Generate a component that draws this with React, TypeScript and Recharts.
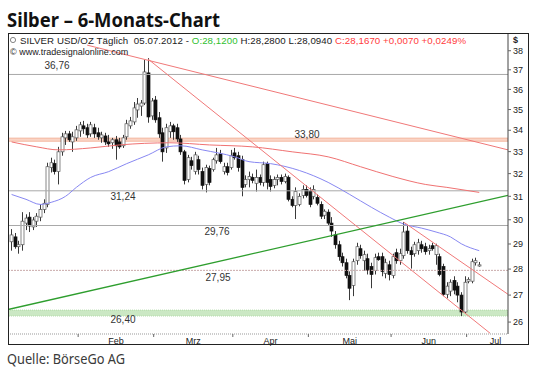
import React from 'react';
import { ComposedChart, Bar, Line, XAxis, YAxis, ReferenceLine, ReferenceArea } from 'recharts';

// Silber, tägliche Kerzen 05.01.2012 - 05.07.2012
const OPEN = [
  29.09, 29.29, 28.89, 28.97, 29.86, 30.11, 29.70, 29.94, 30.11, 30.44,
  30.65, 32.27, 32.45, 32.09, 32.99, 33.64, 33.83, 33.45, 33.64, 33.97,
  34.21, 34.12, 33.83, 34.12, 33.88, 33.64, 33.73, 33.45, 33.41, 33.55,
  33.45, 33.27, 33.69, 34.21, 34.40, 34.98, 35.17, 35.32, 36.84, 34.69,
  35.47, 34.60, 33.88, 33.17, 33.93, 34.21, 34.12, 33.59, 32.99, 31.74,
  32.58, 32.09, 32.63, 32.09, 31.52, 32.23, 32.18, 32.58, 32.90, 32.09,
  32.31, 32.27, 32.94, 32.81, 32.63, 31.52, 31.74, 31.83, 31.57, 31.83,
  31.61, 32.45, 31.74, 31.48, 31.74, 31.83, 31.65, 31.83, 30.87, 30.61,
  30.65, 31.04, 31.30, 31.21, 31.00, 30.95, 30.65, 30.19, 30.32, 29.86,
  29.37, 28.97, 28.49, 28.25, 27.75, 27.37, 28.33, 28.81, 28.33, 28.41,
  28.10, 27.94, 28.49, 28.49, 27.83, 28.17, 27.75, 28.65, 28.33, 28.53,
  29.53, 28.73, 28.61, 28.73, 28.97, 28.89, 28.73, 28.93, 28.57, 28.49,
  28.10, 27.03, 27.15, 27.56, 27.34, 27.00, 26.37, 27.53, 27.53, 28.25,
  28.12,
];
const HIGH = [
  29.61, 29.45, 29.13, 30.32, 30.23, 30.32, 30.11, 30.28, 30.65, 30.87,
  32.49, 32.72, 32.63, 33.22, 33.88, 33.97, 33.97, 33.93, 34.21, 34.40,
  34.45, 34.31, 34.40, 34.31, 34.12, 33.93, 33.88, 33.78, 33.64, 33.73,
  33.64, 33.78, 34.50, 34.64, 35.37, 35.57, 35.47, 37.51, 37.61, 35.57,
  35.67, 34.88, 34.12, 34.31, 34.40, 34.31, 34.31, 33.78, 33.08, 32.85,
  32.76, 32.99, 32.81, 32.27, 32.40, 32.36, 32.72, 33.17, 33.08, 32.49,
  32.49, 33.08, 33.17, 32.99, 32.81, 31.92, 32.09, 32.00, 32.18, 31.96,
  32.54, 32.54, 31.92, 31.87, 31.96, 31.96, 32.00, 31.92, 31.00, 31.39,
  31.13, 31.48, 31.48, 31.39, 31.48, 31.08, 30.78, 30.44, 30.44, 30.11,
  29.53, 29.13, 28.65, 28.41, 27.91, 28.41, 29.05, 28.97, 28.73, 28.61,
  28.25, 28.61, 28.65, 28.65, 28.41, 28.33, 28.61, 28.81, 28.81, 29.90,
  29.78, 28.89, 29.09, 29.21, 29.13, 29.05, 28.97, 29.05, 29.01, 28.61,
  28.21, 27.49, 27.60, 27.72, 27.49, 27.11, 27.72, 27.68, 28.41, 28.45,
  28.28,
];
const LOW = [
  28.73, 28.81, 28.61, 28.73, 29.57, 29.49, 29.57, 29.70, 29.94, 30.28,
  30.53, 32.05, 31.96, 31.52, 32.81, 33.31, 33.45, 32.99, 33.50, 33.69,
  33.83, 33.64, 33.69, 33.64, 33.55, 33.41, 33.31, 33.22, 33.13, 32.63,
  33.13, 33.17, 33.55, 34.07, 34.26, 34.60, 34.69, 35.22, 34.36, 34.50,
  34.36, 33.64, 32.54, 32.94, 33.64, 33.55, 33.45, 32.85, 31.52, 31.61,
  32.18, 31.96, 31.96, 31.30, 31.17, 31.48, 32.09, 32.45, 32.45, 31.96,
  31.92, 32.18, 32.63, 32.09, 31.00, 31.39, 31.39, 31.57, 31.21, 31.48,
  31.43, 31.30, 31.21, 31.35, 31.48, 31.52, 31.57, 30.78, 30.53, 30.03,
  30.57, 30.91, 30.95, 30.53, 30.87, 30.61, 30.03, 30.03, 29.78, 29.29,
  28.81, 28.33, 28.10, 27.64, 26.81, 26.96, 28.17, 28.41, 27.94, 27.79,
  27.26, 27.79, 28.33, 27.72, 27.64, 27.56, 27.64, 28.21, 28.17, 28.41,
  28.61, 28.02, 28.49, 28.57, 28.65, 28.57, 28.57, 28.73, 28.17, 27.72,
  26.96, 26.88, 26.96, 27.03, 26.73, 26.22, 26.30, 27.45, 27.45, 28.14,
  28.094,
];
const CLOSE = [
  29.37, 28.89, 28.97, 29.94, 30.07, 29.74, 29.99, 30.15, 30.44, 30.70,
  32.31, 32.49, 32.09, 32.99, 33.69, 33.83, 33.55, 33.69, 34.02, 34.26,
  34.07, 33.78, 34.26, 33.83, 33.69, 33.78, 33.45, 33.36, 33.55, 33.27,
  33.22, 33.64, 34.31, 34.45, 35.08, 35.27, 35.32, 36.89, 34.64, 35.42,
  34.50, 33.83, 32.99, 34.12, 34.21, 33.93, 33.59, 32.99, 31.70, 32.72,
  32.36, 32.85, 32.18, 31.48, 32.27, 31.61, 32.63, 32.85, 32.54, 32.31,
  32.05, 32.81, 32.72, 32.27, 31.39, 31.74, 31.87, 31.70, 31.83, 31.61,
  32.40, 31.61, 31.43, 31.74, 31.83, 31.65, 31.87, 30.87, 30.61, 31.21,
  31.00, 31.30, 31.04, 30.65, 31.30, 30.70, 30.15, 30.36, 29.86, 29.53,
  28.97, 28.49, 28.25, 27.75, 27.26, 28.29, 28.89, 28.53, 28.57, 27.94,
  27.79, 28.45, 28.37, 27.91, 28.25, 27.79, 28.49, 28.33, 28.61, 29.49,
  28.73, 28.57, 28.97, 29.05, 28.81, 28.69, 28.81, 28.81, 28.93, 27.79,
  27.03, 27.34, 27.49, 27.19, 27.00, 26.37, 27.49, 27.60, 28.29, 28.33,
  28.167,
];

const MA50_AT = [0, 4, 8, 11, 15, 18, 22, 27, 32, 38, 43, 47, 53, 62, 66, 72, 80, 88, 94, 100, 105, 109, 114, 118, 122, 125, 130];
const MA50 = [31.08, 30.87, 30.65, 30.74, 31.0, 31.39, 31.83, 32.09, 32.45, 32.85, 33.22, 33.27, 33.08, 32.76, 32.54, 32.45, 32.14, 31.61, 31.08, 30.53, 30.11, 29.82, 29.65, 29.49, 29.29, 29.01, 28.73];
const MA200_AT = [0, 7, 13, 22, 30, 44, 55, 67, 78, 88, 97, 106, 115, 121, 130];
const MA200 = [33.45, 33.22, 33.08, 33.17, 33.31, 33.41, 33.31, 33.22, 32.99, 32.76, 32.31, 31.87, 31.52, 31.39, 31.17];

const MONTHS = ['Feb', 'Mrz', 'Apr', 'Mai', 'Jun', 'Jul'];
const MONTH_START = [19, 40, 62, 83, 106, 127];
const MONTH_MID = [29, 50.5, 72, 94, 116, 134.5];
const Y_TICKS = [26, 27, 28, 29, 30, 31, 32, 33, 34, 35, 36, 37, 38];

// horizontale Marken
const LEVELS = [36.76, 31.24, 29.76, 27.95];
const RESIST = 33.8;
const RESIST_BAND = [33.48, 33.63];
const SUPPORT = 26.4;
const SUPPORT_BAND = [26.22, 26.44];

// Trendlinien [x1, y1, x2, y2] in (Handelstag, Preis)
const RED_TRENDS = [
  [21, 38.3, 138, 33.08],
  [38, 37.55, 133, 25.6],
  [109, 29.9, 138, 27.03],
];
const GREEN_TREND = [-1, 26.46, 138, 31.04];

const FONT = '"Liberation Sans", Arial, sans-serif';
const BOUNDS = MONTH_START.map((s) => s - 0.5);

const rows = OPEN.map((o, i) => ({
  i,
  open: o,
  high: HIGH[i],
  low: LOW[i],
  close: CLOSE[i],
  range: [LOW[i], HIGH[i]],
  ma50: null as number | null,
  ma200: null as number | null,
}));
MA50_AT.forEach((at, k) => (rows[at].ma50 = MA50[k]));
MA200_AT.forEach((at, k) => (rows[at].ma200 = MA200[k]));

const fmt = (v: number) => v.toFixed(2).replace('.', ',');

const Candle = (props: any) => {
  const { x, y, width, height, payload } = props;
  if (!payload) return null;
  const { open, close, high, low } = payload;
  const cx = Math.round(x + width / 2) + 0.5;
  const top = Math.min(y, y + height);
  const span = Math.abs(height);
  const lh = Math.log(high);
  const ll = Math.log(low);
  const yOf = (v: number) => top + (span * (lh - Math.log(v))) / (lh - ll || 1);
  const up = close >= open;
  const b1 = yOf(Math.max(open, close));
  const b2 = yOf(Math.min(open, close));
  return (
    <g>
      <line x1={cx} x2={cx} y1={top} y2={top + span} stroke="#3a3a3a" strokeWidth={1} />
      <rect
        x={cx - 1.5}
        y={b1}
        width={3}
        height={Math.max(b2 - b1, 1)}
        fill={up ? '#ffffff' : '#111111'}
        stroke={up ? '#555' : '#111'}
        strokeWidth={0.7}
      />
    </g>
  );
};

const MonthTick = (props: any) => {
  const { x, y, payload } = props;
  const v = payload.value;
  if (BOUNDS.includes(v)) {
    return <line x1={x} x2={x} y1={y} y2={y + 3} stroke="#666" />;
  }
  const k = MONTH_MID.indexOf(v);
  return (
    <text x={x} y={y + 10} textAnchor="middle" fontSize={9} fill="#222" fontFamily={FONT}>
      {MONTHS[k]}
    </text>
  );
};

const levelLabel = (text: string, dx: number, dy: number) => (props: any) => {
  const vb = props.viewBox || {};
  return (
    <text
      x={vb.x + dx}
      y={vb.y + dy}
      textAnchor="middle"
      dominantBaseline="central"
      fontSize={10}
      fill="#333"
      fontFamily={FONT}
    >
      {text}
    </text>
  );
};

// label offsets (px from plot left, px from line)
const LEVEL_LABEL_POS: Record<number, [number, number]> = {
  36.76: [49, -9],
  31.24: [115, 6],
  29.76: [209, 6],
  27.95: [210, 7],
};

export default function App() {
  return (
    <div style={{ position: 'absolute', left: 0, top: 0, width: 535, height: 369, background: '#fff' }}>
      <ComposedChart
        width={535}
        height={369}
        data={rows}
        margin={{ top: 34, right: 7, bottom: 24, left: 8 }}
      >
        <XAxis
          dataKey="i"
          type="number"
          domain={[-1, 138]}
          allowDataOverflow
          ticks={[...BOUNDS, ...MONTH_MID]}
          interval={0}
          tickSize={0}
          tickMargin={0}
          tickLine={false}
          axisLine={{ stroke: '#999', strokeDasharray: '1 1' }}
          tick={(p: any) => <MonthTick {...p} />}
          height={11}
        />
        <YAxis
          orientation="right"
          scale="log"
          domain={[25.57, 38.9]}
          allowDataOverflow
          ticks={Y_TICKS}
          interval={0}
          width={20}
          tickSize={3}
          tickMargin={2}
          axisLine={{ stroke: '#444' }}
          tickLine={{ stroke: '#666' }}
          tick={{ fontSize: 9, fill: '#222', fontFamily: FONT }}
        />

        <ReferenceArea
          y1={RESIST_BAND[0]}
          y2={RESIST_BAND[1]}
          fill="#f9cfbf"
          fillOpacity={0.9}
          stroke="#f0a88c"
          strokeWidth={0.7}
          ifOverflow="hidden"
        />
        <ReferenceArea
          y1={SUPPORT_BAND[0]}
          y2={SUPPORT_BAND[1]}
          fill="#cbe8c4"
          fillOpacity={1}
          stroke="#a9d6a0"
          strokeWidth={0.8}
          strokeDasharray="1 1"
          ifOverflow="hidden"
        />

        {LEVELS.map((v) => (
          <ReferenceLine
            key={v}
            y={v}
            stroke={v === 27.95 ? '#c9aaaa' : '#a9a9a9'}
            strokeDasharray={v === 27.95 ? '2 1' : undefined}
            strokeWidth={1}
            label={levelLabel(fmt(v), LEVEL_LABEL_POS[v][0], LEVEL_LABEL_POS[v][1])}
          />
        ))}
        <ReferenceLine y={RESIST} stroke="none" label={levelLabel(fmt(RESIST), 299, 0)} />
        <ReferenceLine y={SUPPORT} stroke="none" label={levelLabel(fmt(SUPPORT), 115, 8)} />

        <Line
          dataKey="ma200"
          type="monotone"
          stroke="#f07272"
          strokeWidth={1}
          dot={false}
          connectNulls
          isAnimationActive={false}
        />
        <Line
          dataKey="ma50"
          type="monotone"
          stroke="#8888f2"
          strokeWidth={1}
          dot={false}
          connectNulls
          isAnimationActive={false}
        />

        {RED_TRENDS.map((t, k) => (
          <ReferenceLine
            key={k}
            segment={[
              { x: t[0], y: t[1] },
              { x: t[2], y: t[3] },
            ]}
            stroke="#f07878"
            strokeWidth={1}
            ifOverflow="hidden"
          />
        ))}
        <ReferenceLine
          segment={[
            { x: GREEN_TREND[0], y: GREEN_TREND[1] },
            { x: GREEN_TREND[2], y: GREEN_TREND[3] },
          ]}
          stroke="#2e9e2e"
          strokeWidth={1.3}
          ifOverflow="hidden"
        />

        <Bar dataKey="range" barSize={3} shape={<Candle />} isAnimationActive={false} />
      </ComposedChart>

      <svg
        width={535}
        height={369}
        style={{ position: 'absolute', left: 0, top: 0, pointerEvents: 'none' }}
      >
        <text
          x={7}
          y={27}
          fontSize={19.5}
          fontWeight={700}
          fill="#111"
          fontFamily='"Noto Sans", sans-serif'
          textLength={213}
          lengthAdjust="spacingAndGlyphs"
        >
          Silber – 6-Monats-Chart
        </text>
        <rect x={8.5} y={33.5} width={520} height={311} fill="none" stroke="#222" />
        <circle cx={13} cy={40} r={2.6} fill="none" stroke="#777" strokeWidth={0.9} />
        <text
          x={20}
          y={43.5}
          fontSize={9.7}
          fill="#222"
          fontFamily={FONT}
          xmlSpace="preserve"
          style={{ whiteSpace: 'pre' }}
          textLength={446}
          lengthAdjust="spacing"
        >
          <tspan>{'SILVER USD/OZ Täglich  05.07.2012 - '}</tspan>
          <tspan fill="#2fbf2f">O:28,1200</tspan>
          <tspan>{' H:28,2800 L:28,0940 '}</tspan>
          <tspan fill="#ff3b3b">C:28,1670 +0,0070 +0,0249%</tspan>
        </text>
        <text x={10} y={54.5} fontSize={9} fill="#222" fontFamily={FONT}>
          © www.tradesignalonline.com
        </text>
        <text x={513} y={43} fontSize={9} fontWeight={700} fill="#222" fontFamily={FONT}>
          $
        </text>
        <text
          x={7}
          y={364}
          fontSize={14.5}
          fill="#3a3a3a"
          fontFamily='"Noto Sans", sans-serif'
          textLength={118}
          lengthAdjust="spacingAndGlyphs"
        >
          Quelle: BörseGo AG
        </text>
      </svg>
    </div>
  );
}
